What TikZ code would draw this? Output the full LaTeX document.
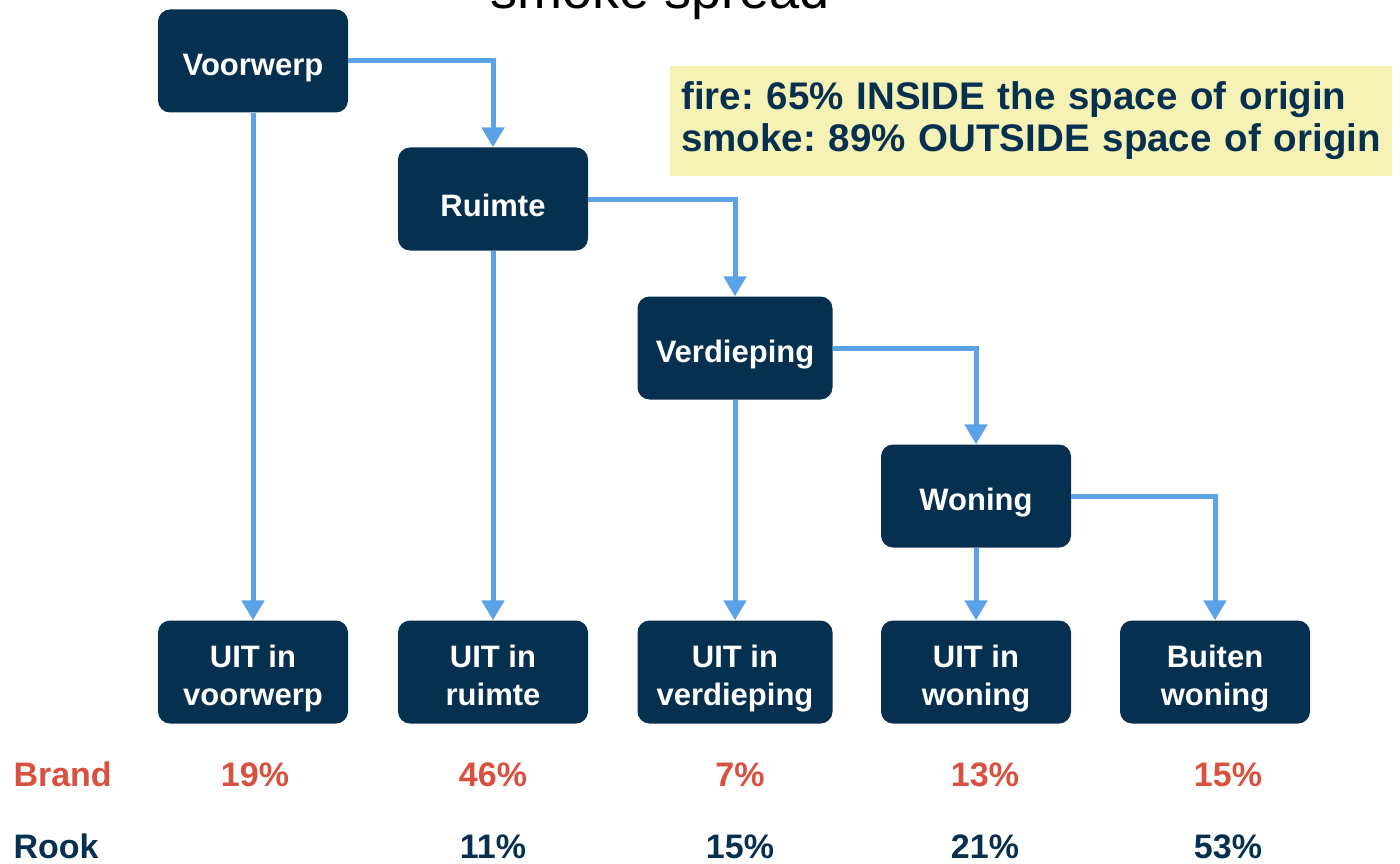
\documentclass[tikz,border=0pt]{standalone}
\usepackage{fontspec}
\setmainfont{Liberation Sans}
\usepackage{xcolor}
\usetikzlibrary{arrows.meta}
\definecolor{navy}{HTML}{06304F}
\definecolor{sky}{HTML}{5CA2E6}
\definecolor{brick}{HTML}{D8503E}
\definecolor{straw}{HTML}{F6F1B4}
\newcommand\lift{\rule{0pt}{36pt}}
\frenchspacing

\begin{document}
\begin{tikzpicture}[x=1pt,y=-1pt,stage/.style={fill=navy,rounded corners=12pt,text=white,align=center,minimum width=190pt,minimum height=103pt,font=\fontsize{31}{38}\selectfont\bfseries,inner sep=4pt},edge/.style={-{Triangle[width=22pt,length=20pt]},draw=sky,line width=5pt},pct/.style={font=\fontsize{34}{38}\selectfont\bfseries,anchor=base}]
\useasboundingbox (0,0) rectangle (1400,864);
\node[font=\fontsize{54}{60}\selectfont,anchor=base] (title) at (660,9) {smoke spread};
\node[fill=straw,text=navy,align=left,anchor=west,text width=700pt,inner xsep=11pt,minimum height=110pt,font=\fontsize{38.5}{42}\selectfont\bfseries] (note) at (670,121) {fire: 65\% INSIDE the space of origin\\smoke: 89\% OUTSIDE space of origin};
\node[stage] (voorwerp) at (253,61) {\lift Voorwerp};
\node[stage] (ruimte) at (493,199) {\lift Ruimte};
\node[stage,minimum width=195pt] (verdieping) at (735,348) {\lift Verdieping};
\node[stage] (woning) at (976,496) {\lift Woning};
\node[stage] (uitvoorwerp) at (253,672) {\lift UIT in\\voorwerp};
\node[stage] (uitruimte) at (493,672) {\lift UIT in\\ruimte\rule[-7pt]{0pt}{1pt}};
\node[stage,minimum width=195pt] (uitverdieping) at (735,672) {\lift UIT in\\verdieping};
\node[stage] (uitwoning) at (976,672) {\lift UIT in\\woning};
\node[stage] (buiten) at (1215,672) {\lift Buiten\\woning};
\draw[edge] (voorwerp.east) -| (ruimte.north);
\draw[edge] (ruimte.east) -| (verdieping.north);
\draw[edge] (verdieping.east) -| (woning.north);
\draw[edge] (woning.east) -| (buiten.north);
\draw[edge] (voorwerp) -- (uitvoorwerp);
\draw[edge] (ruimte) -- (uitruimte);
\draw[edge] (verdieping) -- (uitverdieping);
\draw[edge] (woning) -- (uitwoning);
% percentages per outcome
\node[pct,text=brick,anchor=base west] (brand) at (10,786) {Brand};
\node[pct,text=navy,anchor=base west] (rook) at (10,858) {Rook};
\node[pct,text=brick] (b1) at (255,786) {19\%};
\node[pct,text=brick] (b2) at (493,786) {46\%};
\node[pct,text=brick] (b3) at (740,786) {7\%};
\node[pct,text=brick] (b4) at (985,786) {13\%};
\node[pct,text=brick] (b5) at (1228,786) {15\%};
\node[pct,text=navy] (r2) at (493,858) {11\%};
\node[pct,text=navy] (r3) at (740,858) {15\%};
\node[pct,text=navy] (r4) at (985,858) {21\%};
\node[pct,text=navy] (r5) at (1228,858) {53\%};
\end{tikzpicture}
\end{document}
